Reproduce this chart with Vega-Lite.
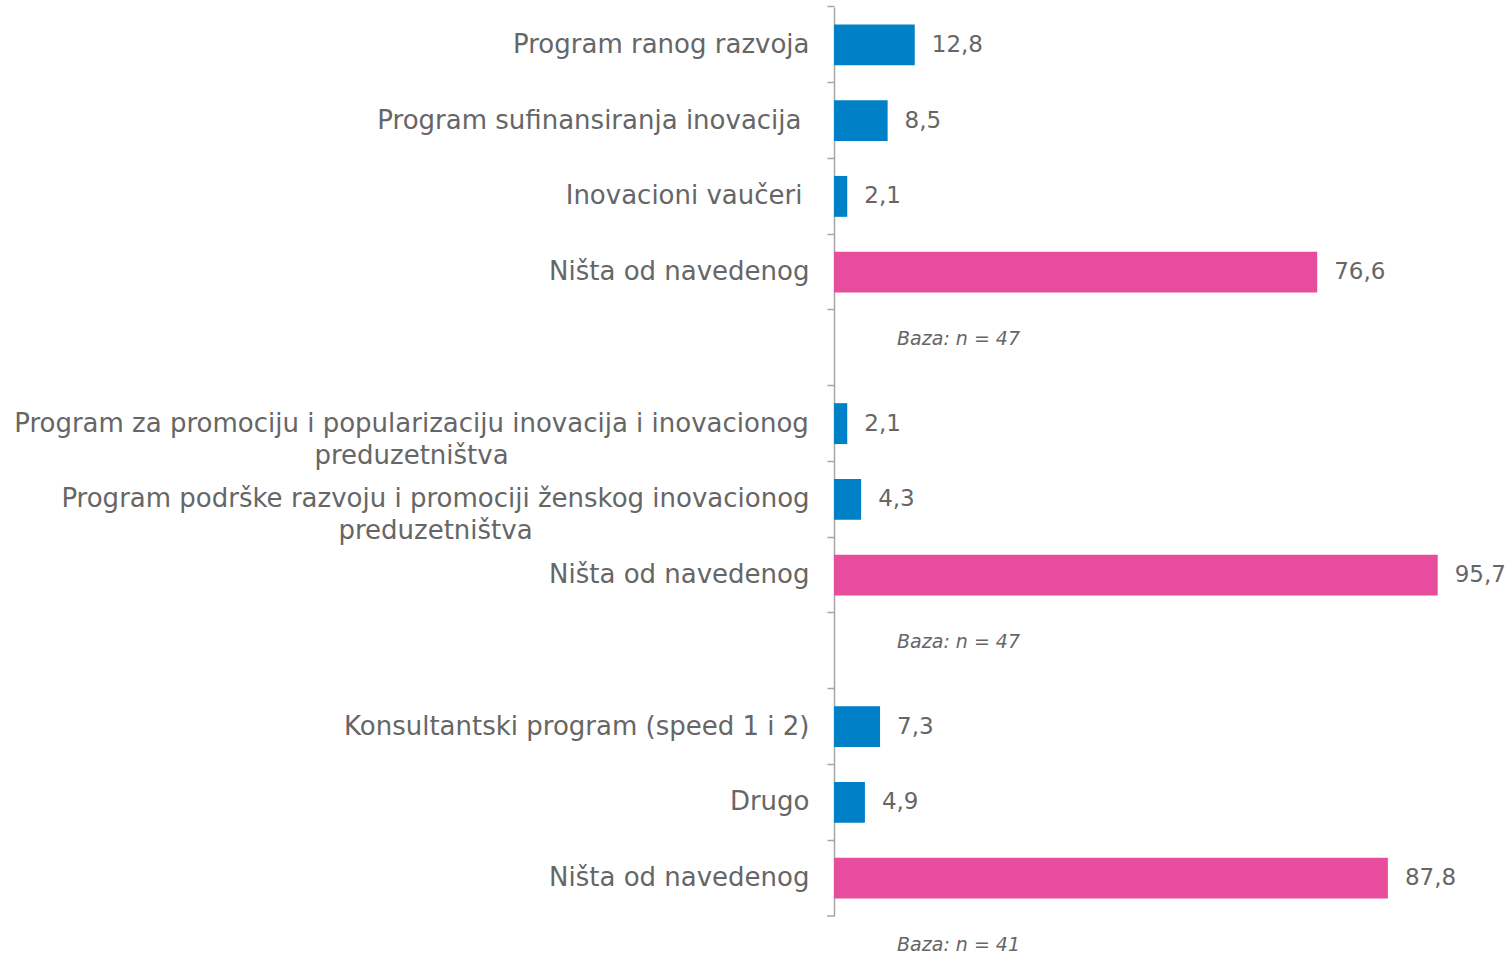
{
  "$schema": "https://vega.github.io/schema/vega-lite/v6.json",
  "autosize": "none",
  "width": 675,
  "height": 909,
  "padding": {"left": 834, "top": 7, "right": 0, "bottom": 46},
  "background": "white",
  "config": {"view": {"stroke": null}, "font": "DejaVu Sans"},
  "data": {
    "values": [
      {"item": "Program ranog razvoja", "value": 12.8, "label": "12,8", "type": "program"},
      {"item": "Program sufinansiranja inovacija", "value": 8.5, "label": "8,5", "type": "program"},
      {"item": "Inovacioni vaučeri", "value": 2.1, "label": "2,1", "type": "program"},
      {"item": "Ništa od navedenog", "value": 76.6, "label": "76,6", "type": "none", "note": "Baza: n = 47"},
      {"item": "Program za promociju i popularizaciju inovacija i inovacionog|preduzetništva", "value": 2.1, "label": "2,1", "type": "program"},
      {"item": "Program podrške razvoju i promociji ženskog inovacionog|preduzetništva", "value": 4.3, "label": "4,3", "type": "program"},
      {"item": "Ništa od navedenog\u200b", "value": 95.7, "label": "95,7", "type": "none", "note": "Baza: n = 47"},
      {"item": "Konsultantski program (speed 1 i 2)", "value": 7.3, "label": "7,3", "type": "program"},
      {"item": "Drugo", "value": 4.9, "label": "4,9", "type": "program"},
      {"item": "Ništa od navedenog\u200b\u200b", "value": 87.8, "label": "87,8", "type": "none", "note": "Baza: n = 41"}
    ]
  },
  "encoding": {
    "y": {
      "field": "item",
      "type": "nominal",
      "scale": {
        "domain": [
          "Program ranog razvoja",
          "Program sufinansiranja inovacija",
          "Inovacioni vaučeri",
          "Ništa od navedenog",
          "gap1",
          "Program za promociju i popularizaciju inovacija i inovacionog|preduzetništva",
          "Program podrške razvoju i promociji ženskog inovacionog|preduzetništva",
          "Ništa od navedenog\u200b",
          "gap2",
          "Konsultantski program (speed 1 i 2)",
          "Drugo",
          "Ništa od navedenog\u200b\u200b"
        ],
        "paddingInner": 0.46,
        "paddingOuter": 0.23
      },
      "axis": {
        "title": null,
        "labelExpr": "indexof(datum.value, 'gap') == 0 ? '' : split(datum.value, '|')",
        "bandPosition": -0.426,
        "domainColor": "#A6A6A6",
        "domainWidth": 1.5,
        "tickColor": "#A6A6A6",
        "tickWidth": 1.5,
        "tickSize": 7,
        "labelPadding": {
          "condition": [
            {"test": "indexof(datum.value, 'popularizaciju') >= 0", "value": 416},
            {"test": "indexof(datum.value, 'ženskog') >= 0", "value": 392},
            {"test": "indexof(datum.value, 'sufinansiranja') >= 0", "value": 26},
            {"test": "indexof(datum.value, 'vaučeri') >= 0", "value": 25}
          ],
          "value": 18
        },
        "labelAlign": {"condition": {"test": "indexof(datum.value, '|') >= 0", "value": "center"}, "value": "right"},
        "labelFont": "DejaVu Sans",
        "labelFontSize": 26,
        "labelColor": "#666666",
        "labelLineHeight": 32,
        "labelLimit": 1000,
        "labelBaseline": "middle"
      }
    }
  },
  "layer": [
    {
      "mark": {"type": "bar"},
      "encoding": {
        "x": {"field": "value", "type": "quantitative", "scale": {"domain": [0, 107], "nice": false}, "axis": null},
        "color": {
          "field": "type",
          "type": "nominal",
          "scale": {"domain": ["program", "none"], "range": ["#0080C6", "#E84C9C"]},
          "legend": null
        }
      }
    },
    {
      "mark": {"type": "text", "align": "left", "baseline": "middle", "dx": 17, "fontSize": 23, "font": "DejaVu Sans", "color": "#666666"},
      "encoding": {
        "x": {"field": "value", "type": "quantitative"},
        "text": {"field": "label"}
      }
    },
    {
      "transform": [{"filter": "datum.note != null"}],
      "mark": {"type": "text", "align": "left", "baseline": "middle", "yOffset": 67, "fontSize": 19, "fontStyle": "italic", "font": "DejaVu Sans", "color": "#666666"},
      "encoding": {
        "x": {"datum": 10},
        "text": {"field": "note"}
      }
    },
    {
      "transform": [{"filter": "datum.value == 87.8"}],
      "mark": {"type": "rule", "color": "#A6A6A6", "strokeWidth": 1.5},
      "encoding": {
        "x": {"datum": -1.11},
        "x2": {"datum": 0},
        "y": {"field": "item", "type": "nominal", "bandPosition": 1.426}
      }
    }
  ]
}
